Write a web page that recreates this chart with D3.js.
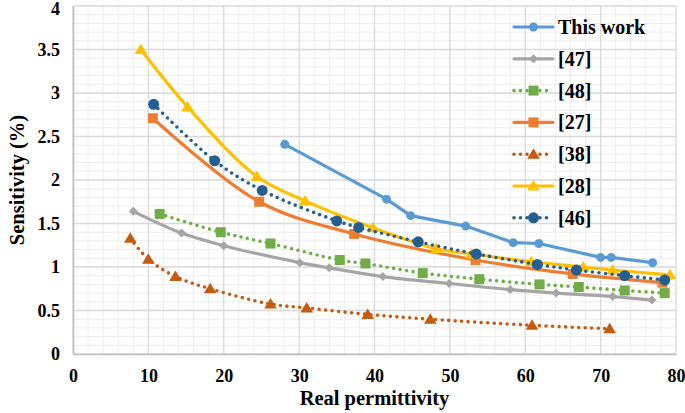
<!DOCTYPE html>
<html><head><meta charset="utf-8">
<script src="https://cdn.jsdelivr.net/npm/d3@7"></script>
<style>body{margin:0;background:#fff}svg{display:block}</style>
</head><body><svg id="c" width="685" height="413"></svg>
<script>
const seriesNames = ["This work","[47]","[48]","[27]","[38]","[28]","[46]"];
const thisWorkX = [28.1,41.6,44.8,52.1,58.4,61.8,70.0,71.4,76.9];
const thisWorkY = [2.41,1.78,1.59,1.47,1.28,1.27,1.11,1.11,1.05];
const ref47X = [8.0,14.4,20.0,30.1,34.0,41.1,49.9,58.0,64.1,71.6,76.8];
const ref47Y = [1.64,1.39,1.245,1.05,0.99,0.89,0.81,0.74,0.70,0.66,0.62];
const ref48X = [11.5,19.6,26.2,35.4,38.8,46.4,53.9,61.9,67.1,73.2,78.5];
const ref48Y = [1.61,1.40,1.27,1.08,1.04,0.93,0.86,0.80,0.77,0.73,0.70];
const ref27X = [10.6,24.7,37.3,53.4,66.3,78.2];
const ref27Y = [2.71,1.75,1.38,1.08,0.92,0.82];
const ref38X = [7.6,10.0,13.6,18.2,26.2,31.0,39.1,47.4,60.9,71.2];
const ref38Y = [1.33,1.09,0.89,0.75,0.575,0.53,0.455,0.40,0.33,0.29];
const ref28X = [9.0,15.2,24.4,30.8,39.8,48.2,52.9,60.8,67.7,71.6,79.2];
const ref28Y = [3.50,2.84,2.04,1.76,1.45,1.21,1.15,1.06,1.00,0.965,0.91];
const ref46X = [10.7,18.8,25.1,35.0,37.9,45.8,53.5,61.6,66.8,73.2,78.5];
const ref46Y = [2.87,2.22,1.88,1.53,1.455,1.29,1.15,1.03,0.965,0.90,0.85];
const xTicks = [0,10,20,30,40,50,60,70,80];
const yTicks = [0,0.5,1,1.5,2,2.5,3,3.5,4];
const xTitle = "Real permittivity";
const yTitle = "Sensitivity (%)";

const styles = [
  {color:"#5B9BD5", dotted:false, smooth:false, marker:"circle", size:4.5},
  {color:"#A5A5A5", dotted:false, smooth:true, marker:"diamond", size:4.5},
  {color:"#70AD47", dotted:true, smooth:true, marker:"square", size:5},
  {color:"#ED7D31", dotted:false, smooth:true, marker:"square", size:5},
  {color:"#C55A11", dotted:true, smooth:true, marker:"triangle", size:6},
  {color:"#FFC000", dotted:false, smooth:true, marker:"triangle", size:6},
  {color:"#255E91", dotted:true, smooth:true, marker:"circle", size:5.5}
];
const xs = [thisWorkX,ref47X,ref48X,ref27X,ref38X,ref28X,ref46X];
const ys = [thisWorkY,ref47Y,ref48Y,ref27Y,ref38Y,ref28Y,ref46Y];
const series = seriesNames.map((n,i)=>({name:n, pts:xs[i].map((x,j)=>({x, y:ys[i][j]})), st:styles[i]}));

const L=73, R=676, T=6, B=354;
const svg = d3.select("#c");
const x = d3.scaleLinear().domain([0,80]).range([L,R]);
const y = d3.scaleLinear().domain([0,4]).range([B,T]);

// minor grid
const g = svg.append("g");
d3.range(0,80.01,2).forEach(v=>{ if(v%10) g.append("line").attr("x1",x(v)).attr("x2",x(v)).attr("y1",T).attr("y2",B).attr("stroke","#EDEDED").attr("stroke-width",1);});
d3.range(0,40.01,1).forEach(k=>{const v=k/10; if(k%5) g.append("line").attr("x1",L).attr("x2",R).attr("y1",y(v)).attr("y2",y(v)).attr("stroke","#EDEDED").attr("stroke-width",1);});
// major grid
xTicks.forEach(v=>g.append("line").attr("x1",x(v)).attr("x2",x(v)).attr("y1",T).attr("y2",B).attr("stroke","#D9D9D9").attr("stroke-width",1.3));
yTicks.forEach(v=>g.append("line").attr("x1",L).attr("x2",R).attr("y1",y(v)).attr("y2",y(v)).attr("stroke","#D9D9D9").attr("stroke-width",1.3));

// axes
const xa = svg.append("g").attr("transform",`translate(0,${B})`).call(d3.axisBottom(x).tickValues(xTicks).tickSize(0).tickPadding(15));
const ya = svg.append("g").attr("transform",`translate(${L},0)`).call(d3.axisLeft(y).tickValues(yTicks).tickSize(0).tickPadding(13).tickFormat(d=>String(d)));
[xa,ya].forEach(a=>{a.select(".domain").attr("stroke","#BFBFBF").attr("stroke-width",1.5);
  a.selectAll("text").attr("font-family","'Liberation Serif', 'Times New Roman', serif").attr("font-weight","bold").attr("font-size","18px").attr("fill","#000");});
ya.selectAll(".tick").filter(d=>d===4).select("text").attr("dy","0.45em");

function markerPath(type,s){
  if(type==="circle") return d3.symbol(d3.symbolCircle, Math.PI*s*s)();
  if(type==="square") return `M${-s},${-s}H${s}V${s}H${-s}Z`;
  if(type==="diamond") return `M0,${-s}L${s},0L0,${s}L${-s},0Z`;
  if(type==="triangle") return `M0,${-s}L${s*1.05},${s*0.75}L${-s*1.05},${s*0.75}Z`;
}

series.forEach(s=>{
  const line = d3.line().x(d=>x(d.x)).y(d=>y(d.y)).curve(s.st.smooth?d3.curveCatmullRom.alpha(0.5):d3.curveLinear);
  const p = svg.append("path").datum(s.pts).attr("d",line).attr("fill","none").attr("stroke",s.st.color).attr("stroke-width",3.2).attr("stroke-linecap","round");
  if(s.st.dotted) p.attr("stroke-dasharray","0 6.5").attr("stroke-width",3.6);
  svg.append("g").selectAll("path").data(s.pts).join("path")
    .attr("transform",d=>`translate(${x(d.x)},${y(d.y)})`).attr("d",markerPath(s.st.marker,s.st.size)).attr("fill",s.st.color);
});

// legend
const lg = svg.append("g");
series.forEach((s,i)=>{
  const yy = 27 + i*31.8;
  const ln = lg.append("line").attr("x1",514).attr("x2",553).attr("y1",yy).attr("y2",yy).attr("stroke",s.st.color).attr("stroke-width",3.2).attr("stroke-linecap","round");
  if(s.st.dotted) ln.attr("stroke-dasharray","0 6.5").attr("stroke-width",3.6);
  lg.append("path").attr("transform",`translate(533.5,${yy})`).attr("d",markerPath(s.st.marker,s.st.size)).attr("fill",s.st.color);
  lg.append("text").attr("x",558).attr("y",yy+7).text(s.name)
    .attr("font-family","'Liberation Serif', 'Times New Roman', serif").attr("font-weight","bold").attr("font-size","20px").attr("fill","#000");
});

// titles
svg.append("text").attr("x",(L+R)/2).attr("y",405).attr("text-anchor","middle").text(xTitle)
  .attr("font-family","'Liberation Serif', 'Times New Roman', serif").attr("font-weight","bold").attr("font-size","20.5px");
svg.append("text").attr("transform",`translate(24,${(T+B)/2}) rotate(-90)`).attr("text-anchor","middle").text(yTitle)
  .attr("font-family","'Liberation Serif', 'Times New Roman', serif").attr("font-weight","bold").attr("font-size","20.5px");
</script></body></html>
